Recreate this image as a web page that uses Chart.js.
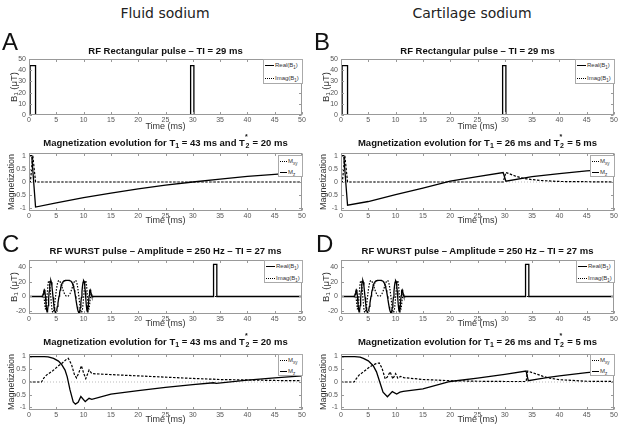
<!DOCTYPE html>
<html>
<head>
<meta charset="utf-8">
<script src="https://cdn.jsdelivr.net/npm/chart.js@4.4.0/dist/chart.umd.min.js"></script>
<style>
body { margin: 0; background: #fff; width: 624px; height: 430px; position: relative; overflow: hidden; font-family: "Liberation Sans", Arial, sans-serif; }
canvas { position: absolute; }
.col { position: absolute; top: 4px; width: 220px; text-align: center; font: 14px/18px "DejaVu Sans"; color: #222; }
.big { position: absolute; font: 24px/24px "Liberation Sans"; color: #111; }
.ttl { position: absolute; width: 273px; text-align: center; font: bold 9.5px/12px "Liberation Sans"; color: #111; white-space: nowrap; z-index: 2; }
.ttl sub { font-size: 7px; vertical-align: -2px; line-height: 0; }
.st { display: inline-block; position: relative; width: 5px; }
.st .a { position: absolute; left: 0; top: -6px; font-size: 7px; }
.st .b { position: relative; top: 2px; font-size: 7px; }
.lg { position: absolute; background: #fff; border: 1px solid #aaa; box-sizing: border-box; font: 6px/8px "Liberation Sans"; color: #333; z-index: 2; }
.lg .row { position: absolute; left: 1px; height: 8px; white-space: nowrap; }
.lg .ln { display: inline-block; width: 9px; margin-right: 1px; vertical-align: middle; border-top: 1.3px solid #000; }
.lg .dot { border-top: 1.3px dotted #000; }
.lg sub { font-size: 4.5px; vertical-align: -1.5px; line-height: 0; }
</style>
</head>
<body>

<canvas id="rfA"></canvas>
<canvas id="magA"></canvas>
<canvas id="rfC"></canvas>
<canvas id="magC"></canvas>
<canvas id="rfB"></canvas>
<canvas id="magB"></canvas>
<canvas id="rfD"></canvas>
<canvas id="magD"></canvas>

<div class="col" style="left:55px">Fluid sodium</div>
<div class="col" style="left:362px">Cartilage sodium</div>

<div class="big" style="left:2px;top:30px">A</div>
<div class="big" style="left:314px;top:30px">B</div>
<div class="big" style="left:2px;top:232px">C</div>
<div class="big" style="left:316px;top:232px">D</div>

<div class="ttl" style="left:29px;top:45px">RF Rectangular pulse – TI = 29 ms</div>
<div class="ttl" style="left:341px;top:45px">RF Rectangular pulse – TI = 29 ms</div>
<div class="ttl" style="left:29px;top:137px">Magnetization evolution for T<sub>1</sub> = 43 ms and T<span class="st"><span class="a">*</span><span class="b">2</span></span> = 20 ms</div>
<div class="ttl" style="left:341px;top:137px">Magnetization evolution for T<sub>1</sub> = 26 ms and T<span class="st"><span class="a">*</span><span class="b">2</span></span> = 5 ms</div>
<div class="ttl" style="left:29px;top:245px">RF WURST pulse – Amplitude = 250 Hz – TI = 27 ms</div>
<div class="ttl" style="left:341px;top:245px">RF WURST pulse – Amplitude = 250 Hz – TI = 27 ms</div>
<div class="ttl" style="left:29px;top:336px">Magnetization evolution for T<sub>1</sub> = 43 ms and T<span class="st"><span class="a">*</span><span class="b">2</span></span> = 20 ms</div>
<div class="ttl" style="left:341px;top:336px">Magnetization evolution for T<sub>1</sub> = 26 ms and T<span class="st"><span class="a">*</span><span class="b">2</span></span> = 5 ms</div>

<!-- légendes -->
<div class="lg" style="left:263px;top:59px;width:40px;height:25px">
  <div class="row" style="top:1px"><span class="ln"></span>Real(B<sub>1</sub>)</div>
  <div class="row" style="top:14px"><span class="ln dot"></span>Imag(B<sub>1</sub>)</div>
</div>
<div class="lg" style="left:575px;top:59px;width:40px;height:25px">
  <div class="row" style="top:1px"><span class="ln"></span>Real(B<sub>1</sub>)</div>
  <div class="row" style="top:14px"><span class="ln dot"></span>Imag(B<sub>1</sub>)</div>
</div>
<div class="lg" style="left:264px;top:260px;width:39px;height:23px">
  <div class="row" style="top:1px"><span class="ln"></span>Real(B<sub>1</sub>)</div>
  <div class="row" style="top:13px"><span class="ln dot"></span>Imag(B<sub>1</sub>)</div>
</div>
<div class="lg" style="left:576px;top:260px;width:39px;height:23px">
  <div class="row" style="top:1px"><span class="ln"></span>Real(B<sub>1</sub>)</div>
  <div class="row" style="top:13px"><span class="ln dot"></span>Imag(B<sub>1</sub>)</div>
</div>
<div class="lg" style="left:278px;top:155px;width:25px;height:22px">
  <div class="row" style="top:1px"><span class="ln dot" style="width:7px"></span>M<sub>xy</sub></div>
  <div class="row" style="top:12px"><span class="ln" style="width:7px"></span>M<sub>z</sub></div>
</div>
<div class="lg" style="left:590px;top:155px;width:25px;height:22px">
  <div class="row" style="top:1px"><span class="ln dot" style="width:7px"></span>M<sub>xy</sub></div>
  <div class="row" style="top:12px"><span class="ln" style="width:7px"></span>M<sub>z</sub></div>
</div>
<div class="lg" style="left:278px;top:354px;width:25px;height:22px">
  <div class="row" style="top:1px"><span class="ln dot" style="width:7px"></span>M<sub>xy</sub></div>
  <div class="row" style="top:12px"><span class="ln" style="width:7px"></span>M<sub>z</sub></div>
</div>
<div class="lg" style="left:590px;top:354px;width:25px;height:22px">
  <div class="row" style="top:1px"><span class="ln dot" style="width:7px"></span>M<sub>xy</sub></div>
  <div class="row" style="top:12px"><span class="ln" style="width:7px"></span>M<sub>z</sub></div>
</div>

<script>
// ticks des axes
const timeTicks = [0, 5, 10, 15, 20, 25, 30, 35, 40, 45, 50];
const rectTicks = [0, 10, 20, 30, 40, 50];
const wurstTicks = [-20, 0, 20, 40];
const magTicks = [-1, -0.5, 0, 0.5, 1];

// impulsion rectangulaire (TI = 29 ms), B1 en µT
const rectTime = [0, 0.2, 0.2, 1.2, 1.2, 29.6, 29.6, 30.2, 30.2, 50];
const rectReal = [0, 0, 44, 44, 0, 0, 44, 44, 0, 0];
const flatTime = [0, 50];
const flatVal = [0, 0];

// impulsion WURST (2.2 - 11.8 ms)
const wurstTime = [
  2.2, 2.3, 2.4, 2.5, 2.6, 2.7, 2.8, 2.9, 3.0, 3.1, 3.2, 3.3, 3.4, 3.5, 3.6, 3.7,
  3.8, 3.9, 4.0, 4.1, 4.2, 4.3, 4.4, 4.5, 4.6, 4.7, 4.8, 4.9, 5.0, 5.1, 5.2, 5.3,
  5.4, 5.5, 5.6, 5.7, 5.8, 5.9, 6.0, 6.1, 6.2, 6.3, 6.4, 6.5, 6.6, 6.7, 6.8, 6.9,
  7.0,
  7.1, 7.2, 7.3, 7.4, 7.5, 7.6, 7.7, 7.8, 7.9, 8.0, 8.1, 8.2, 8.3, 8.4, 8.5, 8.6,
  8.7, 8.8, 8.9, 9.0, 9.1, 9.2, 9.3, 9.4, 9.5, 9.6, 9.7, 9.8, 9.9, 10.0, 10.1, 10.2,
  10.3, 10.4, 10.5, 10.6, 10.7, 10.8, 10.9, 11.0, 11.1, 11.2, 11.3, 11.4, 11.5, 11.6, 11.7, 11.8
];
const wurstReal = [
  0, 0, -0.4, 0.4, 3.2, 6.9, 9.2, 8.0, 0.8, -9.1, -17.2, -21.0, -19.0, -12.4, -2.7, 7.3,
  15.6, 20.7, 21.9, 19.5, 14.1, 6.9, -1.1, -8.6, -14.8, -19.2, -21.6, -21.9, -20.4, -17.5, -13.6, -9.0,
  -4.3, 0.4, 4.8, 8.7, 12.0, 14.8, 17.0, 18.7, 19.9, 20.8, 21.3, 21.7, 21.9, 22.0, 22.0, 22.0,
  22.0,
  22.0, 22.0, 22.0, 21.9, 21.7, 21.3, 20.8, 19.9, 18.7, 17.0, 14.8, 12.0, 8.7, 4.8, 0.4, -4.3,
  -9.0, -13.6, -17.5, -20.4, -21.9, -21.6, -19.2, -14.8, -8.6, -1.1, 6.9, 14.1, 19.5, 21.9, 20.7, 15.6,
  7.3, -2.7, -12.4, -19.0, -21.0, -17.2, -9.1, 0.8, 8.0, 9.2, 6.9, 3.2, 0.4, -0.4, 0, 0
];
const wurstImag = [
  0, 0, 0.9, 2.5, 3.2, 1.3, -3.8, -11.5, -17.0, -16.7, -10.3, -0.4, 10.0, 18.2, 21.8, 20.7,
  15.5, 7.5, -1.6, -10.2, -16.9, -20.9, -22.0, -20.3, -16.3, -10.7, -4.3, 2.2, 8.2, 13.3, 17.3, 20.1,
  21.6, 22.0, 21.5, 20.2, 18.4, 16.3, 14.0, 11.7, 9.4, 7.3, 5.4, 3.8, 2.4, 1.4, 0.6, 0.2,
  0.0,
  0.2, 0.6, 1.4, 2.4, 3.8, 5.4, 7.3, 9.4, 11.7, 14.0, 16.3, 18.4, 20.2, 21.5, 22.0, 21.6,
  20.1, 17.3, 13.3, 8.2, 2.2, -4.3, -10.7, -16.3, -20.3, -22.0, -20.9, -16.9, -10.2, -1.6, 7.5, 15.5,
  20.7, 21.8, 18.2, 10.0, -0.4, -10.3, -16.7, -17.0, -11.5, -3.8, 1.3, 3.2, 2.5, 0.9, 0, 0
];
// impulsion 90° après la WURST (TI = 27 ms)
const pulse27Time = [33.8, 33.8, 34.4, 34.4, 50];
const pulse27Real = [0, 44, 44, 0, 0];

// aimantation : liquide, impulsion rectangulaire
const magATime = [0, 0.5, 1.2, 5, 10, 15, 20, 25, 30, 35, 40, 45, 50];
const magAMz = [1, 1, -0.95, -0.79, -0.59, -0.42, -0.26, -0.12, 0.0, 0.11, 0.21, 0.29, 0.37];
const magAMxyTime = [0, 0.25, 0.7, 1.2, 50];
const magAMxy = [0, 0, 1, 0, 0];

// aimantation : cartilage, impulsion rectangulaire
const magBTime = [0, 0.5, 1.2, 5, 10, 15, 20, 25, 29.7, 30.2, 35, 40, 45, 50];
const magBMz = [1, 1, -0.88, -0.74, -0.48, -0.23, 0.03, 0.2, 0.36, 0.03, 0.2, 0.32, 0.42, 0.49];
const magBMxyTime = [0, 0.25, 0.7, 1.2, 29.7, 30.2, 31, 32, 33, 34, 35, 37, 40, 45, 50];
const magBMxy = [0, 0, 1, 0, 0, 0.36, 0.3, 0.22, 0.16, 0.12, 0.09, 0.05, 0.02, 0.01, 0];

// aimantation : liquide, WURST
const magCTime = [0, 2.8, 3.5, 4.5, 5.4, 6.0, 6.6, 7.0, 7.5, 8.1, 8.5, 9.0, 9.5, 10.3, 11.0, 11.5, 15, 20, 25, 30, 33.8, 34.3, 40, 45, 50];
const magCMz = [1, 1, 0.99, 0.93, 0.82, 0.68, 0.47, 0.2, -0.3, -0.78, -0.87, -0.8, -0.57, -0.77, -0.64, -0.68, -0.48, -0.34, -0.21, -0.1, -0.03, -0.05, 0.07, 0.16, 0.24];
const magCMxyTime = [0, 2.3, 2.7, 3.2, 4.4, 5.4, 6.0, 6.9, 7.2, 7.8, 8.3, 8.7, 9.1, 9.6, 10.0, 10.4, 11.0, 11.5, 15, 20, 25, 30, 33.8, 34.2, 40, 45, 50];
const magCMxy = [0, 0, 0.15, 0.27, 0.45, 0.64, 0.73, 0.9, 0.93, 0.68, 0.3, 0.16, 0.35, 0.64, 0.35, 0.13, 0.47, 0.33, 0.29, 0.24, 0.19, 0.14, 0.11, 0.1, 0.08, 0.06, 0.05];

// aimantation : cartilage, WURST
const magDTime = [0, 2.5, 3.5, 4.1, 5.0, 5.9, 6.5, 7.1, 7.7, 8.5, 9.4, 10.2, 10.8, 11.4, 15, 20, 25, 30, 33.9, 34.3, 36, 38, 40, 45, 50];
const magDMz = [1, 1, 0.98, 0.93, 0.83, 0.64, 0.4, 0.0, -0.4, -0.58, -0.38, -0.47, -0.4, -0.37, -0.27, 0.02, 0.15, 0.3, 0.43, 0.05, 0.11, 0.18, 0.24, 0.37, 0.47];
const magDMxyTime = [0, 2.4, 2.8, 3.3, 4.1, 5.3, 6.4, 7.0, 7.5, 8.1, 8.5, 9.0, 9.5, 10.0, 10.4, 10.9, 11.5, 15, 20, 25, 30, 33.9, 34.2, 35, 36, 37, 38, 40, 45, 50];
const magDMxy = [0, 0, 0.13, 0.27, 0.4, 0.6, 0.72, 0.75, 0.55, 0.12, 0.2, 0.4, 0.12, 0.33, 0.15, 0.22, 0.17, 0.1, 0.05, 0.03, 0.02, 0.02, 0.43, 0.37, 0.3, 0.22, 0.16, 0.09, 0.03, 0.02];

// construction des points {x, y}
function pts(xs, ys) {
    return xs.map((x, i) => ({ x: x, y: ys[i] }));
}

function line(xs, ys, style) {
    const d = { data: pts(xs, ys), borderColor: '#000', borderWidth: 1.3 };
    if (style === 'dot') { d.borderDash = [1.5, 1.5]; d.borderWidth = 1.2; }
    if (style === 'dash') { d.borderDash = [2.5, 1.5]; d.borderWidth = 1.2; }
    if (style === 'zero') { d.borderDash = [1, 2]; d.borderWidth = 0.8; d.borderColor = '#aaa'; }
    return d;
}

// cadre façon MATLAB avec petits ticks vers l'intérieur
const frame = {
    id: 'frame',
    afterDatasetsDraw(chart) {
        const { ctx, chartArea: a, scales } = chart;
        const l = Math.round(a.left) + 0.5, r = Math.round(a.right) - 0.5;
        const t = Math.round(a.top) + 0.5, b = Math.round(a.bottom) - 0.5;
        ctx.save();
        ctx.strokeStyle = '#999';
        ctx.lineWidth = 1;
        ctx.strokeRect(l, t, r - l, b - t);
        ctx.beginPath();
        scales.x.ticks.forEach(tk => {
            const p = Math.round(scales.x.getPixelForValue(tk.value)) + 0.5;
            ctx.moveTo(p, b); ctx.lineTo(p, b - 2.5);
            ctx.moveTo(p, t); ctx.lineTo(p, t + 2.5);
        });
        scales.y.ticks.forEach(tk => {
            const p = Math.round(scales.y.getPixelForValue(tk.value)) + 0.5;
            ctx.moveTo(l, p); ctx.lineTo(l + 2.5, p);
            ctx.moveTo(r, p); ctx.lineTo(r - 2.5, p);
        });
        ctx.stroke();
        ctx.restore();
    }
};

function makePanel(id, colX, areaTop, areaBottom, canvasBottom, yMin, yMax, yTicks, yTitle, yTitleSize, yTitlePad, sets) {
    const canvasTop = areaTop - 8;
    const cv = document.getElementById(id);
    cv.width = 312;
    cv.height = canvasBottom - canvasTop;
    cv.style.left = colX + 'px';
    cv.style.top = canvasTop + 'px';
    new Chart(cv, {
        type: 'line',
        data: { datasets: sets },
        options: {
            responsive: false,
            animation: false,
            devicePixelRatio: 1,
            layout: { padding: { top: 8, right: 10, left: 0, bottom: 0 } },
            plugins: { legend: { display: false }, tooltip: { enabled: false } },
            elements: { point: { radius: 0 }, line: { tension: 0 } },
            scales: {
                x: {
                    type: 'linear', min: 0, max: 50,
                    afterBuildTicks: s => { s.ticks = timeTicks.map(v => ({ value: v })); },
                    afterFit: s => { s.height = canvasBottom - areaBottom; },
                    grid: { display: false, drawTicks: false },
                    border: { display: false },
                    ticks: { font: { size: 7 }, color: '#555', padding: 1, maxRotation: 0, autoSkip: false, callback: v => String(v) },
                    title: { display: true, text: 'Time (ms)', font: { size: 9 }, color: '#333', padding: 0 }
                },
                y: {
                    type: 'linear', min: yMin, max: yMax,
                    afterBuildTicks: s => { s.ticks = yTicks.map(v => ({ value: v })); },
                    afterFit: s => { s.width = 29; },
                    grid: { display: false, drawTicks: false },
                    border: { display: false },
                    ticks: { font: { size: 7 }, color: '#555', padding: 3, autoSkip: false, callback: v => String(v) },
                    title: { display: true, text: yTitle, font: { size: yTitleSize }, color: '#333', padding: { top: yTitlePad, bottom: 0 } }
                }
            }
        },
        plugins: [frame]
    });
}

Chart.defaults.font.family = '"Liberation Sans", "DejaVu Sans", Arial, sans-serif';

const rfWurstRealX = [0].concat(wurstTime, pulse27Time);
const rfWurstRealY = [0].concat(wurstReal, pulse27Real);
const rfWurstImagX = [0].concat(wurstTime, [50]);
const rfWurstImagY = [0].concat(wurstImag, [0]);

const b1Title = 'B₁ (μT)';

[0, 312].forEach((colX, k) => {
    const ids = k === 0 ? ['rfA', 'magA', 'rfC', 'magC'] : ['rfB', 'magB', 'rfD', 'magD'];
    const mag1 = k === 0
        ? [line(magAMxyTime, magAMxy, 'dash'), line(magATime, magAMz, 'solid'), line(flatTime, flatVal, 'zero')]
        : [line(magBMxyTime, magBMxy, 'dash'), line(magBTime, magBMz, 'solid'), line(flatTime, flatVal, 'zero')];
    const mag2 = k === 0
        ? [line(magCMxyTime, magCMxy, 'dash'), line(magCTime, magCMz, 'solid'), line(flatTime, flatVal, 'zero')]
        : [line(magDMxyTime, magDMxy, 'dash'), line(magDTime, magDMz, 'solid'), line(flatTime, flatVal, 'zero')];

    makePanel(ids[0], colX, 59, 115, 132, 0, 50, rectTicks, b1Title, 9.5, 9,
        [line(rectTime, rectReal, 'solid'), line(flatTime, flatVal, 'dot')]);
    makePanel(ids[1], colX, 153, 211, 226, -1.1, 1.1, magTicks, 'Magnetization', 9, 6, mag1);
    makePanel(ids[2], colX, 260, 314, 329, -24, 50, wurstTicks, b1Title, 9.5, 9,
        [line(rfWurstRealX, rfWurstRealY, 'solid'), line(rfWurstImagX, rfWurstImagY, 'dot')]);
    makePanel(ids[3], colX, 354, 410, 425, -1.1, 1.1, magTicks, 'Magnetization', 9, 6, mag2);
});
</script>
</body>
</html>
